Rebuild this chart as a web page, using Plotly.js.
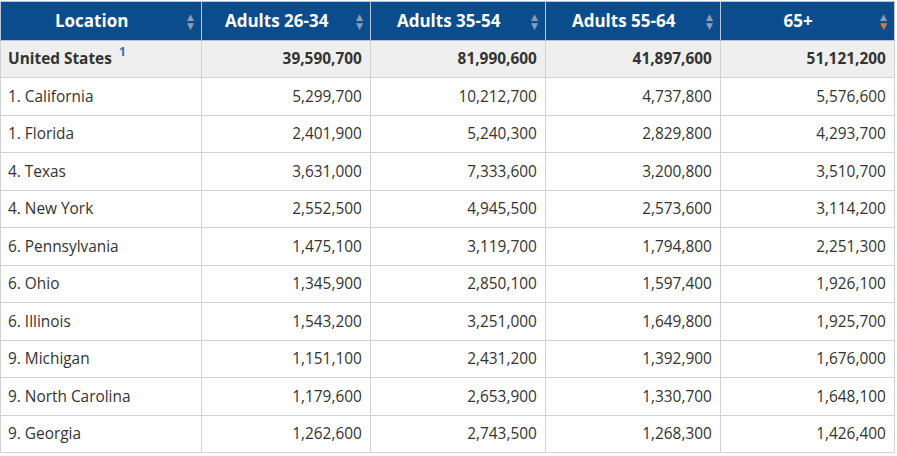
<!DOCTYPE html>
<html>
<head>
<meta charset="utf-8">
<script src="https://cdn.plot.ly/plotly-3.0.1.min.js"></script>
<style>html,body{margin:0;padding:0;background:#fff;}#chart{width:897px;height:456px;}</style>
</head>
<body>
<div id="chart"></div>
<script>
const headers = ["Location", "Adults 26-34", "Adults 35-54", "Adults 55-64", "65+"];
const locations = ["United States", "1. California", "1. Florida", "4. Texas", "4. New York", "6. Pennsylvania", "6. Ohio", "6. Illinois", "9. Michigan", "9. North Carolina", "9. Georgia"];
const footnote = "1";
const adults26_34 = [39590700, 5299700, 2401900, 3631000, 2552500, 1475100, 1345900, 1543200, 1151100, 1179600, 1262600];
const adults35_54 = [81990600, 10212700, 5240300, 7333600, 4945500, 3119700, 2850100, 3251000, 2431200, 2653900, 2743500];
const adults55_64 = [41897600, 4737800, 2829800, 3200800, 2573600, 1794800, 1597400, 1649800, 1392900, 1330700, 1268300];
const adults65plus = [51121200, 5576600, 4293700, 3510700, 3114200, 2251300, 1926100, 1925700, 1676000, 1648100, 1426400];

const fmt = v => v.toLocaleString('en-US');
const styleCol = (arr) => arr.map((s, i) => i === 0 ? '<b>' + s + '</b>' : '<span>' + s + '</span>');
const locCol = styleCol(locations);
const numCols = [adults26_34, adults35_54, adults55_64, adults65plus].map(a => styleCol(a.map(fmt)));

const rowFill = locations.map((_, i) => i === 0 ? '#efefef' : '#ffffff');

const trace = {
  type: 'table',
  domain: {x: [0, 894/897], y: [0, 1]},
  columnwidth: [201, 169, 175, 175, 174],
  header: {
    values: headers.map(h => '<b>' + h + '&nbsp;&nbsp;&nbsp;&nbsp;</b>'),
    align: 'center',
    height: 37,
    fill: {color: '#0b4c8c'},
    line: {color: '#b9c6d6', width: 1},
    font: {family: 'Open Sans', size: 17, color: '#ffffff'}
  },
  cells: {
    values: [locCol].concat(numCols),
    align: ['left', 'right', 'right', 'right', 'right'],
    height: 37.5,
    fill: {color: [rowFill, rowFill, rowFill, rowFill, rowFill]},
    line: {color: '#d2d2d2', width: 1},
    font: {family: 'Open Sans', size: 15.4, color: '#333333'}
  }
};

const arrowX = [190, 359, 534, 709, 883];
const annotations = [];
arrowX.forEach((px, i) => {
  annotations.push({xref: 'paper', yref: 'paper', x: px / 897, y: 1 - 16 / 456, text: '▲', showarrow: false,
    font: {family: 'DejaVu Sans', size: 9, color: '#8b9db3'}, xanchor: 'center', yanchor: 'middle'});
  annotations.push({xref: 'paper', yref: 'paper', x: px / 897, y: 1 - 25 / 456, text: '▼', showarrow: false,
    font: {family: 'DejaVu Sans', size: 9, color: i === 4 ? '#e0772b' : '#8b9db3'}, xanchor: 'center', yanchor: 'middle'});
});
annotations.push({xref: 'paper', yref: 'paper', x: 117 / 897, y: 1 - 51 / 456, text: '<b>' + footnote + '</b>', showarrow: false,
  font: {family: 'Open Sans', size: 12, color: '#2a74b4'}, xanchor: 'left', yanchor: 'middle'});

const layout = {
  width: 897, height: 456,
  margin: {l: 0, r: 0, t: 1, b: 0},
  paper_bgcolor: '#ffffff',
  annotations: annotations
};

Plotly.newPlot('chart', [trace], layout, {displayModeBar: false, staticPlot: true});
</script>
</body>
</html>
